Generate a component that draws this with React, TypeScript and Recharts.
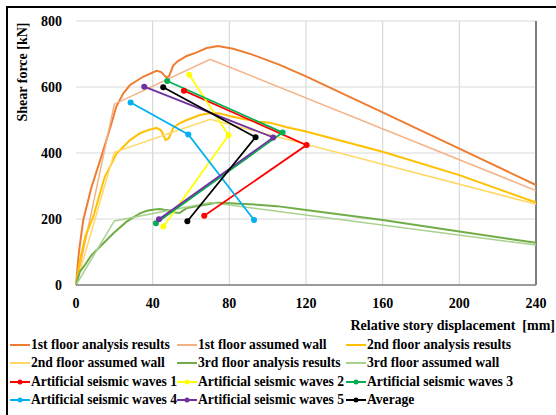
import React from 'react';
import {
  LineChart,
  Line,
  XAxis,
  YAxis,
  CartesianGrid,
  ReferenceLine,
} from 'recharts';

type Pt = [number, number];

// relative story displacement [mm] / shear force [kN]
const floor1Analysis: Pt[] = [
  [0, 0], [1.5, 100], [3.8, 197], [8, 295], [14, 404], [18, 480], [21, 540], [24.7, 581],
  [28.2, 606], [35, 631], [42, 649], [44.5, 645], [47, 630], [48.5, 632], [50.7, 665],
  [53, 678], [57.8, 694], [63, 705], [68.2, 718], [72, 722], [74, 724], [82, 716],
  [92, 698], [106, 668], [120, 632], [160, 523], [200, 413], [240, 303],
];
const floor1Assumed: Pt[] = [[0, 0], [20, 548], [70, 684], [240, 286]];

const floor2Analysis: Pt[] = [
  [0, 0], [2.1, 76], [5, 150], [9, 207], [15, 328], [17.7, 358], [21.2, 399], [23, 409],
  [28.2, 439], [33.4, 460], [38, 470], [42, 476], [44.5, 468], [46.8, 439], [48.5, 445],
  [50.7, 476], [54, 490], [57.8, 500], [61, 507], [64.7, 515], [68, 519], [71.5, 521],
  [75, 520], [80, 512], [85.5, 505], [93, 497], [101, 492], [110, 478], [120, 465],
  [160, 404], [200, 333], [240, 250],
];
const floor2Assumed: Pt[] = [[0, 0], [20, 402], [70, 502], [240, 245]];

const floor3Analysis: Pt[] = [
  [0, 0], [2, 40], [4.7, 61], [8, 90], [12.5, 116], [19.5, 157], [26.4, 192], [30, 205],
  [33.4, 217], [37, 225], [41, 229], [43.8, 230], [46, 228], [49, 226], [51, 220], [54, 218],
  [56, 226], [57.8, 233], [62, 238], [68, 244], [73.5, 249], [80, 248], [90.8, 245],
  [104.8, 239], [120, 227], [160, 197], [200, 162], [240, 128],
];
const floor3Assumed: Pt[] = [[0, 0], [20, 194], [70, 250], [240, 121]];

// peak response of each floor: 1st, 2nd, 3rd
const wave1: Pt[] = [[56.3, 589], [120.3, 424], [66.9, 210]];
const wave2: Pt[] = [[59.1, 637], [79.6, 454], [45.6, 177]];
const wave3: Pt[] = [[47.6, 618], [107.8, 462], [41.7, 187]];
const wave4: Pt[] = [[28.5, 553], [58.6, 456], [92.9, 197]];
const wave5: Pt[] = [[35.6, 601], [102.9, 447], [43.3, 199]];
const average: Pt[] = [[45.5, 599], [93.7, 448], [58.1, 193]];

const xTicks = [0, 40, 80, 120, 160, 200, 240];
const yTicks = [0, 200, 400, 600, 800];

const FONT = '"Liberation Serif", "Times New Roman", serif';

const series = [
  { name: '1st floor analysis results', pts: floor1Analysis, color: '#ED7D31', width: 2, dot: false },
  { name: '1st floor assumed wall', pts: floor1Assumed, color: '#F4B183', width: 1.5, dot: false },
  { name: '2nd floor analysis results', pts: floor2Analysis, color: '#FFC000', width: 2, dot: false },
  { name: '2nd floor assumed wall', pts: floor2Assumed, color: '#FFD966', width: 1.5, dot: false },
  { name: '3rd floor analysis results', pts: floor3Analysis, color: '#70AD47', width: 2, dot: false },
  { name: '3rd floor assumed wall', pts: floor3Assumed, color: '#A9D18E', width: 1.5, dot: false },
  { name: 'Artificial seismic waves 1', pts: wave1, color: '#FF0000', width: 1.75, dot: true },
  { name: 'Artificial seismic waves 2', pts: wave2, color: '#FFFF00', width: 1.75, dot: true },
  { name: 'Artificial seismic waves 3', pts: wave3, color: '#00B050', width: 1.75, dot: true },
  { name: 'Artificial seismic waves 4', pts: wave4, color: '#00B0F0', width: 1.75, dot: true },
  { name: 'Artificial seismic waves 5', pts: wave5, color: '#7030A0', width: 1.75, dot: true },
  { name: 'Average', pts: average, color: '#000000', width: 1.75, dot: true },
];

const tickStyle = { fill: '#000', fontSize: 14, fontWeight: 'bold', fontFamily: FONT };

const LegendBlock = () => (
  <div
    style={{
      position: 'absolute',
      left: 10,
      top: 336,
      display: 'grid',
      gridTemplateColumns: '167px 169px 190px',
      fontFamily: FONT,
      fontWeight: 'bold',
      fontSize: 13.6,
      lineHeight: '18.3px',
      whiteSpace: 'nowrap',
    }}
  >
    {series.map((s) => (
      <div key={s.name} style={{ display: 'flex', alignItems: 'center' }}>
        <svg width={20} height={10} style={{ marginRight: 1 }}>
          <line x1={0} y1={5} x2={20} y2={5} stroke={s.color} strokeWidth={2} />
          {s.dot && <circle cx={10} cy={5} r={2.5} fill={s.color} />}
        </svg>
        <span>{s.name}</span>
      </div>
    ))}
  </div>
);

export default function App() {
  return (
    <div style={{ position: 'absolute', left: 0, top: 0, width: 556, height: 415, overflow: 'hidden', background: '#fff' }}>
      <div
        style={{
          position: 'absolute',
          left: 6,
          top: 6,
          width: 600,
          height: 500,
          borderLeft: '2px solid #000',
          borderTop: '2px solid #000',
        }}
      />
      <div style={{ position: 'absolute', left: 0, top: 0 }}>
        <LineChart width={556} height={340} margin={{ top: 21, right: 20, left: 16, bottom: 25 }}>
          <CartesianGrid stroke="#D9D9D9" strokeWidth={1.2} verticalValues={[40, 80, 120, 160, 200]} />
          <XAxis
            type="number"
            dataKey="x"
            domain={[0, 240]}
            ticks={xTicks}
            interval={0}
            height={30}
            tickLine={false}
            tickSize={6}
            tickMargin={7}
            stroke="#808080"
            strokeWidth={1.5}
            tick={tickStyle}
            label={{
              content: ({ viewBox }: any) => (
                <text
                  x={viewBox.x + viewBox.width + 19}
                  y={viewBox.y + 40}
                  textAnchor="end"
                  dominantBaseline="central"
                  style={{ fontFamily: FONT, fontSize: 14, fontWeight: 'bold', fill: '#000' }}
                >
                  {'Relative story displacement\u00a0\u00a0[mm]'}
                </text>
              ),
            }}
          />
          <YAxis
            type="number"
            dataKey="y"
            domain={[0, 800]}
            ticks={yTicks}
            interval={0}
            width={60}
            axisLine={false}
            tickLine={false}
            tickSize={6}
            tickMargin={8}
            tick={tickStyle}
            label={{
              content: ({ viewBox }: any) => (
                <text
                  x={viewBox.x + 6}
                  y={viewBox.y + 51}
                  textAnchor="middle"
                  dominantBaseline="central"
                  transform={`rotate(-90, ${viewBox.x + 6}, ${viewBox.y + 51})`}
                  style={{ fontFamily: FONT, fontSize: 14, fontWeight: 'bold', fill: '#000' }}
                >
                  Shear force [kN]
                </text>
              ),
            }}
          />
          <ReferenceLine x={240} stroke="#7F7F7F" strokeWidth={2} ifOverflow="extendDomain" />
          {series.map((s) => (
            <Line
              key={s.name}
              name={s.name}
              data={s.pts.map(([x, y]) => ({ x, y }))}
              dataKey="y"
              type="linear"
              stroke={s.color}
              strokeWidth={s.width}
              dot={s.dot ? { r: 3, fill: s.color, stroke: s.color, strokeWidth: 0 } : false}
              activeDot={false}
              isAnimationActive={false}
            />
          ))}
        </LineChart>
      </div>
      <LegendBlock />
    </div>
  );
}
